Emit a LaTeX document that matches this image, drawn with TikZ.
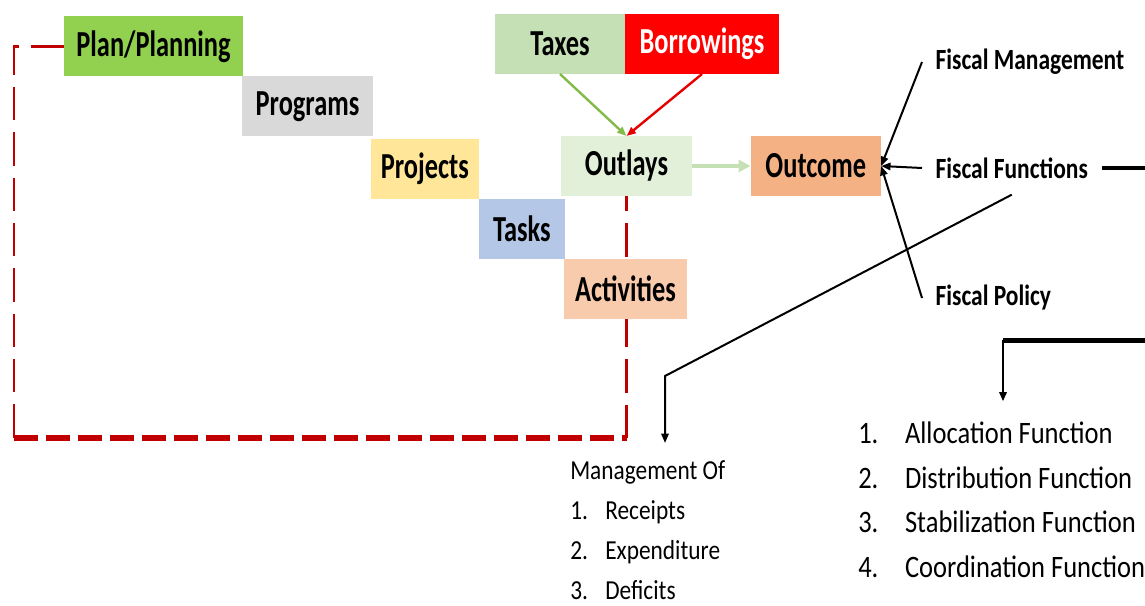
\documentclass[tikz,border=0pt]{standalone}
\usepackage{fontspec}
\setmainfont{Carlito}[FakeStretch=0.85]
\newfontfamily\boxfont{Carlito}[FakeStretch=0.72]
\newfontfamily\fiscalfont{Carlito}[FakeStretch=0.8]
\usetikzlibrary{arrows.meta,backgrounds,positioning}

\definecolor{planGreen}{HTML}{92D050}
\definecolor{progGrey}{HTML}{D9D9D9}
\definecolor{projYellow}{HTML}{FFE699}
\definecolor{taskBlue}{HTML}{B4C7E7}
\definecolor{activPeach}{HTML}{F8CBAD}
\definecolor{taxGreen}{HTML}{C5E0B4}
\definecolor{borrowRed}{HTML}{FF0000}
\definecolor{outlayGreen}{HTML}{E2F0D9}
\definecolor{outcomeOrange}{HTML}{F4B183}
\definecolor{loopRed}{HTML}{C00000}

\begin{document}
\begin{tikzpicture}[x=0.75pt,y=-0.75pt,
	stage/.style={minimum height=45pt, inner sep=0pt, outer sep=0pt, font=\boxfont\bfseries\fontsize{27.5}{27.5}\selectfont},
	fiscal/.style={anchor=west, inner xsep=10pt, inner ysep=12pt, font=\fiscalfont\bfseries\fontsize{22}{22}\selectfont},
	linkline/.style={draw=black, line width=1.5pt},
	tip/.style={-{Triangle[length=7pt,width=5.5pt]}},
	loopthin/.style={draw=loopRed, line width=2.2pt, dash pattern=on 25pt off 9pt},
	loopthick/.style={draw=loopRed, line width=4.5pt, dash pattern=on 18pt off 6pt}]
	\useasboundingbox (0,0) rectangle (1145,606);
	\clip (0,0) rectangle (1145,606);

	% the planning cascade, each step hanging off the corner of the last
	\node[stage, fill=planGreen, minimum width=134pt] (plan) at (153.5,46.5) {Plan/Planning};
	\node[stage, fill=progGrey, minimum width=98pt, below right=0pt and -0.5pt of plan] (prog) {Programs};
	\node[stage, fill=projYellow, minimum width=81pt, below right=2pt and -1.5pt of prog] (proj) {Projects};
	\node[stage, fill=taskBlue, minimum width=64.5pt, below right=0pt and 0pt of proj] (task) {Tasks};
	\node[stage, fill=activPeach, minimum width=92pt, below right=0pt and -0.5pt of task] (activ) {Activities};

	% funding sources feeding the outlays
	\node[stage, fill=taxGreen, minimum width=97.5pt] (taxes) at (560,44) {Taxes};
	\node[stage, fill=borrowRed, text=white, minimum width=115.5pt, right=0pt of taxes] (borrow) {Borrowings};
	\node[stage, fill=outlayGreen, minimum width=98pt] (outlay) at (626.5,166) {Outlays};
	\node[stage, fill=outcomeOrange, minimum width=98pt, right=44pt of outlay] (outcome) {Outcome};

	\draw[tip, draw=planGreen!90!black, line width=1.8pt] (taxes.south) -- (outlay.north);
	\draw[tip, draw=borrowRed!90!black, line width=1.8pt] (borrow.south) -- (outlay.north);
	\draw[-{Triangle[length=9pt,width=9pt]}, draw=taxGreen, line width=3pt] (outlay) -- (outcome);

	% feedback loop from outlays back to planning
	\coordinate (loopsw) at (14,438);
	\coordinate (loopse) at (outlay.south |- loopsw);
	\begin{scope}[on background layer]
		\draw[loopthin] (plan.west) -| (loopsw);
		\draw[loopthick] (loopsw) -- (loopse);
		\draw[loopthin] (loopse) -- (outlay.south);
	\end{scope}

	% fiscal side
	\node[fiscal] (fman) at (922,62) {Fiscal Management};
	\node[fiscal] (ffun) at (922,168) {Fiscal Functions};
	\node[fiscal] (fpol) at (922,298) {Fiscal Policy};
	\draw[linkline, tip] (fman.west) -- (outcome.east);
	\draw[linkline, tip] (ffun.west) -- (outcome.east);
	\draw[linkline, tip] (fpol.west) -- (outcome.east);

	\node[anchor=north west, inner sep=0pt, font=\fontsize{20.6}{30}\selectfont] (mgmt) at (570,451) {%
		\begin{tabular}{@{}l@{\hspace{13pt}}l@{}}
			\multicolumn{2}{@{}l@{}}{Management Of}\\
			1. & Receipts\\
			2. & Expenditure\\
			3. & Deficits
		\end{tabular}};
	\node[anchor=north west, inner sep=0pt, font=\fontsize{23.4}{33.5}\selectfont] (funcs) at (858,412) {%
		\begin{tabular}{@{}l@{\hspace{20pt}}l@{}}
			1. & Allocation Function\\
			2. & Distribution Function\\
			3. & Stabilization Function\\
			4. & Coordination Function
		\end{tabular}};

	% connectors down to the two lists
	\coordinate (knee) at (665,376);
	\draw[linkline, tip, shorten >=6pt] (ffun.south) -- (knee) -- (knee |- mgmt.north);
	\coordinate (rim) at (1175,168);
	\coordinate (elbow) at (1003,340);
	\draw[linkline, line width=3pt] (ffun.east) -- (rim);
	\draw[linkline, line width=3.75pt] (rim) |- (elbow);
	\draw[linkline, tip, line width=2pt, shorten >=8pt] (elbow) -- (elbow |- funcs.north);
\end{tikzpicture}
\end{document}
